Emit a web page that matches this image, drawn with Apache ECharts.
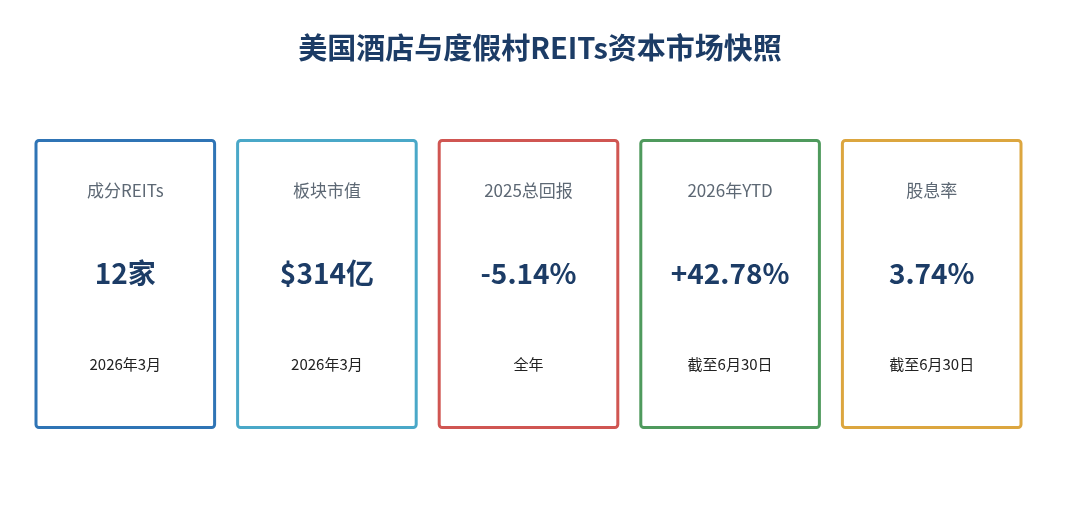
<!DOCTYPE html>
<html><head><meta charset="utf-8">
<script src="https://cdn.jsdelivr.net/npm/echarts@6/dist/echarts.min.js"></script>
<style>html,body{margin:0;padding:0;background:#fff}#c{width:1080px;height:530px}</style>
</head><body><div id="c"></div>
<script>
var titleText = '美国酒店与度假村REITs资本市场快照';
var cardLabels = ['成分REITs', '板块市值', '2025总回报', '2026年YTD', '股息率'];
var cardValues = ['12家', '$314亿', '-5.14%', '+42.78%', '3.74%'];
var cardNotes = ['2026年3月', '2026年3月', '全年', '截至6月30日', '截至6月30日'];
var cardColors = ['#2f74b5', '#4aa8c8', '#d05652', '#4f9a5d', '#dca63f'];

var FONT = '"Noto Sans CJK SC", "Noto Sans", sans-serif';
var chart = echarts.init(document.getElementById('c'), null, {renderer: 'canvas'});
var data = cardLabels.map(function (l, i) { return [i, 1]; });
chart.setOption({
  backgroundColor: '#fff',
  animation: false,
  title: {
    text: titleText, left: 'center', top: 28,
    textStyle: {fontFamily: FONT, fontSize: 29, fontWeight: 'bold', color: '#1c3c66'}
  },
  grid: {left: 24.5, right: 47.5, top: 139, bottom: 101},
  xAxis: {type: 'category', data: cardLabels, show: false},
  yAxis: {type: 'value', min: 0, max: 1, show: false},
  series: [{
    type: 'custom',
    data: data,
    renderItem: function (params, api) {
      var i = api.value(0);
      var top = api.coord([i, 1]);
      var bot = api.coord([i, 0]);
      var band = api.size([1, 0])[0];
      var w = band - 20;
      var h = bot[1] - top[1];
      var cx = top[0];
      var x0 = cx - w / 2;
      var y0 = top[1];
      return {
        type: 'group',
        children: [
          {type: 'rect', shape: {x: x0 + 1.5, y: y0 + 1.5, width: w - 3, height: h - 3, r: 3},
           style: {fill: '#fff', stroke: cardColors[i], lineWidth: 3}},
          {type: 'text', style: {text: cardLabels[i], x: cx, y: y0 + h * 0.179, align: 'center', verticalAlign: 'middle',
            font: 'normal 17px ' + FONT, fill: '#5d6874'}},
          {type: 'text', style: {text: cardValues[i], x: cx, y: y0 + h * 0.462, align: 'center', verticalAlign: 'middle',
            font: 'bold 28px ' + FONT, fill: '#1c3c66'}},
          {type: 'text', style: {text: cardNotes[i], x: cx, y: y0 + h * 0.776, align: 'center', verticalAlign: 'middle',
            font: 'normal 15px ' + FONT, fill: '#222'}}
        ]
      };
    }
  }]
});
</script></body></html>
